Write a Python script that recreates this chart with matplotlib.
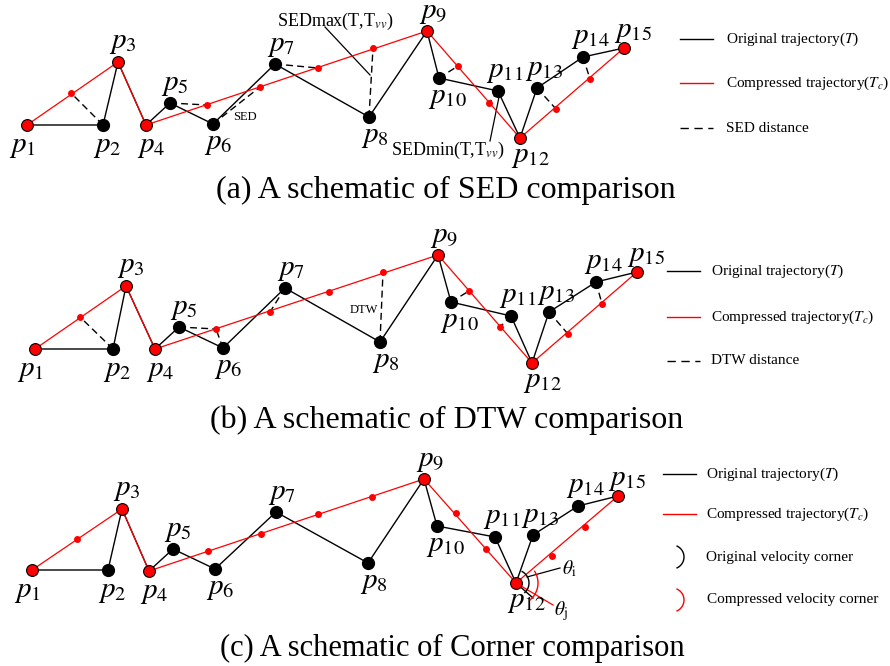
import numpy as np
import matplotlib.pyplot as plt

plt.rcParams['font.family'] = ['Liberation Serif', 'DejaVu Serif']
plt.rcParams['mathtext.fontset'] = 'stix'

# point positions (pixel space of the figure), p1..p15, per panel
xa = [27, 103, 118, 146, 170, 213, 275, 369, 427, 439, 498, 520, 537, 583, 624]
ya = [125, 125, 62, 125, 103, 124, 64, 117, 31, 78, 91, 138, 88, 57, 48]
xb = [35, 113, 126, 155, 179, 223, 285, 380, 438, 451, 511, 532, 549, 596, 637]
yb = [349, 349, 286, 349, 327, 348, 288, 342, 255, 302, 316, 363, 312, 282, 272]
xc = [32, 108, 122, 149, 173, 215, 276, 368, 424, 437, 495, 516, 533, 578, 618]
yc = [570, 570, 509, 571, 549, 569, 512, 563, 479, 526, 537, 583, 535, 506, 496]

kept = [0, 2, 3, 8, 11, 14]  # points kept in the compressed trajectory

# interpolated points on the compressed trajectory
ra_x = [71, 207, 260, 318, 373, 458, 489, 556, 590]
ra_y = [93, 105, 87, 68, 48, 66, 103, 109, 79]
rb_x = [80, 216, 270, 329, 383, 469, 500, 568, 602]
rb_y = [317, 329, 312, 292, 272, 291, 327, 334, 304]
rc_x = [77, 208, 261, 318, 372, 456, 486, 552, 585]
rc_y = [539, 551, 534, 514, 497, 513, 549, 556, 527]

# distance links: (original point index, interpolated point index)
sed_links = [(1, 0), (4, 1), (5, 2), (6, 3), (7, 4), (9, 5), (10, 6), (12, 7), (13, 8)]
dtw_links = [(1, 0), (4, 1), (5, 1), (6, 2), (7, 4), (9, 5), (10, 6), (12, 7), (13, 8)]

label_off = [(-5, 22), (4, 22), (5, -19), (5, 22), (5, -18), (5, 20), (6, -18),
             (6, 20), (6, -18), (8, 20), (7, -19), (10, 19), (7, -18), (7, -19), (9, -16)]

captions = ['(a) A schematic of SED comparison',
            '(b) A schematic of DTW comparison',
            '(c) A schematic of Corner comparison']

fig = plt.figure(figsize=(8.9, 6.66), dpi=100)
ax = fig.add_axes([0, 0, 1, 1])
ax.set_xlim(0, 890)
ax.set_ylim(666, 0)
ax.axis('off')


def draw_panel(x, y, rx, ry, links):
    x = np.array(x)
    y = np.array(y)
    ax.plot(x, y, color='black', lw=1.0, zorder=2)
    ax.plot(x[kept], y[kept], color='red', lw=0.9, zorder=3)
    for i, j in links:
        ax.plot([x[i], rx[j]], [y[i], ry[j]], color='black', lw=1.0,
                ls=(0, (5, 3)), zorder=1)
    ax.plot(rx, ry, 'o', color='red', ms=5, mec='none', zorder=4)
    black = [k for k in range(15) if k not in kept]
    ax.plot(x[black], y[black], 'o', color='black', ms=8.5, zorder=5)
    ax.plot(x[kept], y[kept], 'o', color='red', ms=8.5, mec='black', mew=0.8, zorder=5)
    for k in range(15):
        dx, dy = label_off[k]
        ax.text(x[k] + dx, y[k] + dy, '$p_{%d}$' % (k + 1), fontsize=21,
                ha='center', va='center', zorder=6)


def legend_line(x0, yy, color, dashed=False):
    ax.plot([x0, x0 + 33], [yy, yy], color=color, lw=1.0,
            ls=(0, (6, 4)) if dashed else '-')


draw_panel(xa, ya, ra_x, ra_y, sed_links)
draw_panel(xb, yb, rb_x, rb_y, dtw_links)
draw_panel(xc, yc, rc_x, rc_y, [])

# panel (a) annotations
ax.text(335, 21, r'SEDmax(T,T$_{\mathit{vv}}$)', fontsize=13, ha='center', va='center')
ax.plot([325, 370], [27, 75], color='black', lw=0.9)
ax.text(448, 150, r'SEDmin(T,T$_{\mathit{vv}}$)', fontsize=13, ha='center', va='center')
ax.plot([490, 499], [141, 97], color='black', lw=0.9)
ax.text(245, 117, 'SED', fontsize=9, ha='center', va='center')

# panel (b) annotation
ax.text(364, 310, 'DTW', fontsize=9, ha='center', va='center')

# panel (c) corners at p12
cx, cy = xc[11], yc[11]
t = np.radians(np.linspace(-47, 62, 40))
ax.plot(cx + 13 * np.cos(t), cy - 13 * np.sin(t), color='black', lw=1.0, zorder=6)
t = np.radians(np.linspace(-50, 32, 40))
ax.plot(cx + 22 * np.cos(t), cy - 22 * np.sin(t), color='red', lw=1.0, zorder=6)
ax.plot([cx, 533], [cy, 598], color='black', lw=1.0, zorder=2)
ax.plot([cx, 553], [cy, 605], color='red', lw=0.9, zorder=2)
ax.plot([527, 560], [577, 568], color='black', lw=0.9, zorder=2)
ax.text(569, 569, r'$\theta_{\mathrm{i}}$', fontsize=14, ha='center', va='center')
ax.text(561, 611, r'$\theta_{\mathrm{j}}$', fontsize=14, ha='center', va='center')

# legends
legend_line(680, 39, 'black')
ax.text(726, 39, 'Original trajectory($T$)', fontsize=11, va='center')
legend_line(680, 83, 'red')
ax.text(726, 83, 'Compressed trajectory($T_c$)', fontsize=11, va='center')
legend_line(680, 128, 'black', True)
ax.text(726, 128, 'SED distance', fontsize=11, va='center')

legend_line(667, 271, 'black')
ax.text(711, 271, 'Original trajectory($T$)', fontsize=11, va='center')
legend_line(667, 317, 'red')
ax.text(711, 317, 'Compressed trajectory($T_c$)', fontsize=11, va='center')
legend_line(667, 361, 'black', True)
ax.text(711, 361, 'DTW distance', fontsize=11, va='center')

legend_line(663, 474, 'black')
ax.text(706, 474, 'Original trajectory($T$)', fontsize=11, va='center')
legend_line(663, 514, 'red')
ax.text(706, 514, 'Compressed trajectory($T_c$)', fontsize=11, va='center')
t = np.radians(np.linspace(-65, 65, 30))
ax.plot(672 + 12 * np.cos(t), 557 - 12 * np.sin(t), color='black', lw=1.0)
ax.text(706, 558, 'Original velocity corner', fontsize=11, va='center')
ax.plot(672 + 12 * np.cos(t), 600 - 12 * np.sin(t), color='red', lw=1.0)
ax.text(707, 600, 'Compressed velocity corner', fontsize=11, va='center')

# captions
for xx, yy, fs, cap in zip([446, 447, 452], [190, 420, 648], [23, 23, 22], captions):
    ax.text(xx, yy, cap, fontsize=fs, ha='center', va='center')

fig.savefig('out.png', dpi=100)
